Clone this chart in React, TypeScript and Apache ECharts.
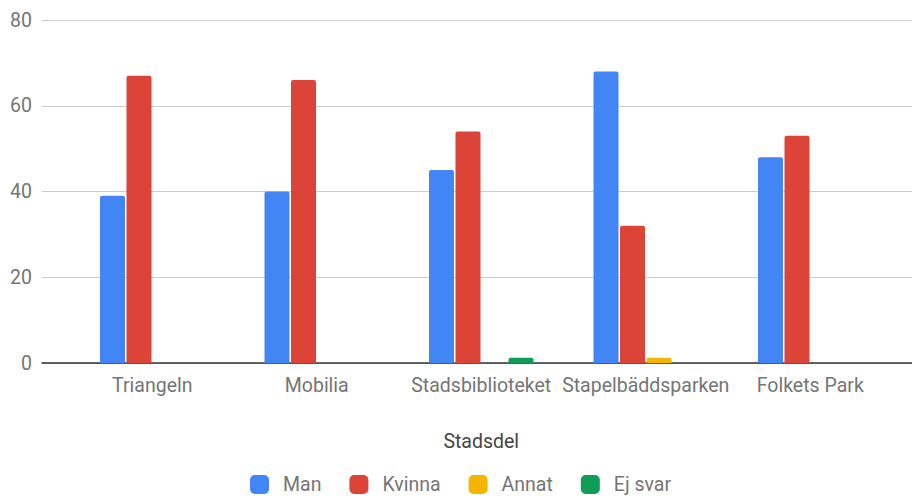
import React, { useEffect, useRef } from "react";
import * as echarts from "echarts";

const categories = ["Triangeln", "Mobilia", "Stadsbiblioteket", "Stapelbäddsparken", "Folkets Park"];
const man = [39, 40, 45, 68, 48];
const kvinna = [67, 66, 54, 32, 53];
const annat = [0, 0, 0, 1.2, 0];
const ejSvar = [0, 0, 1.2, 0, 0];
const seriesNames = ["Man", "Kvinna", "Annat", "Ej svar"];
const colors = ["#4285F4", "#DB4437", "#F4B400", "#0F9D58"];
const yTicks = { min: 0, max: 80, interval: 20 };

export default function App() {
  const ref = useRef<HTMLDivElement>(null);
  useEffect(() => {
    document.body.style.margin = "0";
    if (!ref.current) return;
    const chart = echarts.init(ref.current, null, { renderer: "svg" });
    const font = "Roboto";
    const fs = 19.5;
    const data = [man, kvinna, annat, ejSvar];
    chart.setOption({
      animation: false,
      textStyle: { fontFamily: font },
      color: colors,
      grid: [
        { left: 42, right: 0, top: 20, height: 343 },
        { left: 70, right: 19.5, top: 20, height: 343 },
      ],
      legend: {
        top: 474.5,
        left: 250,
        icon: "roundRect",
        itemWidth: 19,
        itemHeight: 19,
        itemGap: 28,
        padding: 0,
        data: seriesNames,
        textStyle: { color: "#757575", fontSize: fs, fontFamily: font, padding: [0, 0, 0, 9] },
      },
      xAxis: [
        {
          gridIndex: 0,
          type: "category",
          data: categories,
          axisLine: { show: true, lineStyle: { color: "#333", width: 1.5 } },
          axisTick: { show: false },
          axisLabel: { show: false },
          splitLine: { show: false },
        },
        {
          gridIndex: 1,
          type: "category",
          data: categories,
          axisLine: { show: false },
          axisTick: { show: false },
          axisLabel: { color: "#757575", fontSize: fs, margin: 12, fontFamily: font, interval: 0 },
          name: "Stadsdel",
          nameLocation: "middle",
          nameGap: 68,
          nameTextStyle: { color: "#444", fontSize: fs, fontFamily: font },
        },
      ],
      yAxis: [
        {
          gridIndex: 0,
          type: "value",
          min: yTicks.min,
          max: yTicks.max,
          interval: yTicks.interval,
          axisLine: { show: false },
          axisTick: { show: false },
          axisLabel: { color: "#757575", fontSize: fs, margin: 10, fontFamily: font },
          splitLine: { lineStyle: { color: "#cccccc", width: 1 } },
        },
        {
          gridIndex: 1,
          type: "value",
          min: yTicks.min,
          max: yTicks.max,
          interval: yTicks.interval,
          axisLine: { show: false },
          axisTick: { show: false },
          axisLabel: { show: false },
          splitLine: { show: false },
        },
      ],
      series: seriesNames.map((name, i) => ({
        name,
        type: "bar",
        xAxisIndex: 1,
        yAxisIndex: 1,
        data: data[i],
        barWidth: 25,
        barGap: "6%",
        itemStyle: { color: colors[i], borderRadius: [2, 2, 0, 0] },
      })),
    });
    return () => chart.dispose();
  }, []);
  return <div ref={ref} style={{ width: 912, height: 498 }} />;
}
